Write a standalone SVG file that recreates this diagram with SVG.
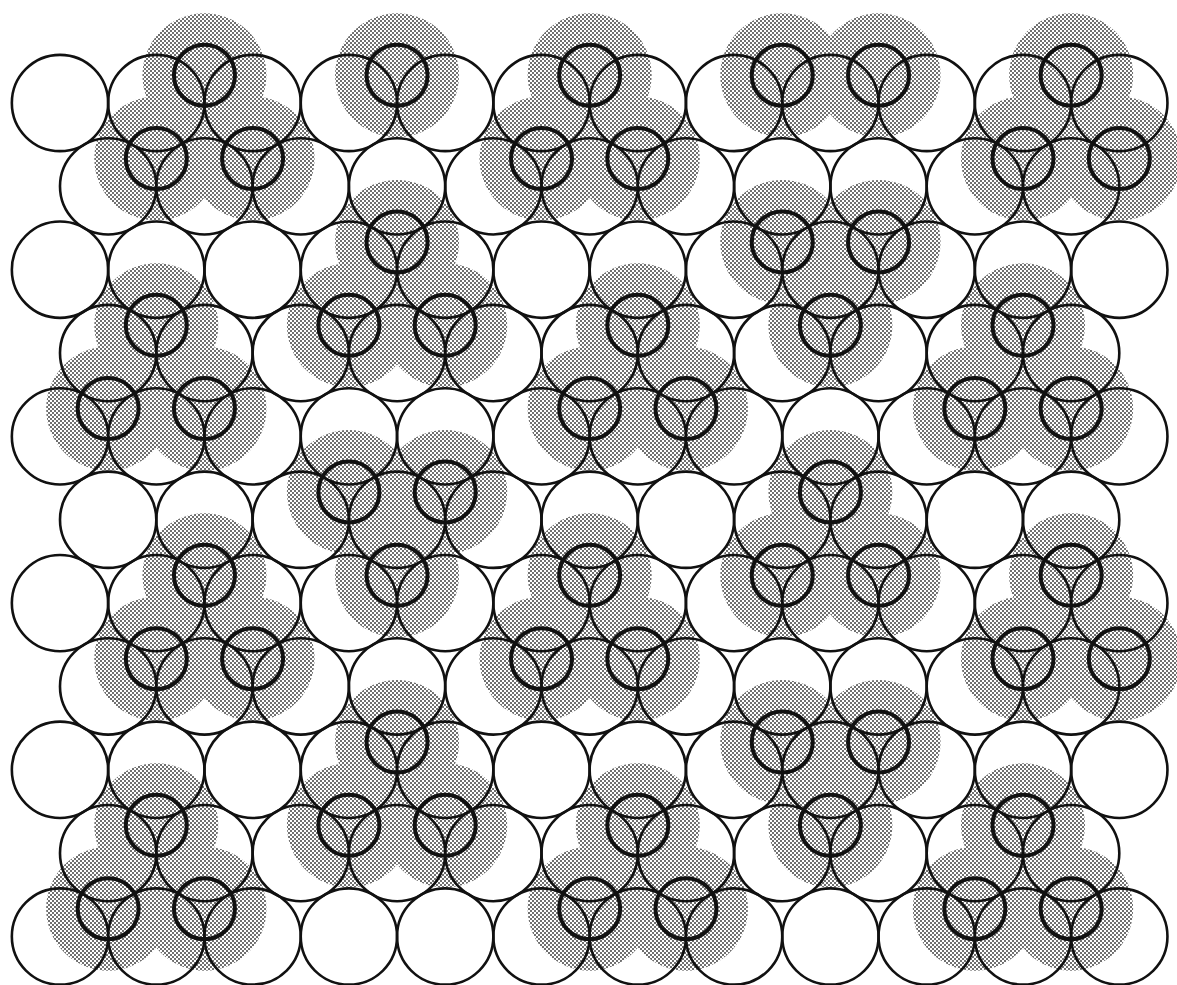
<svg xmlns="http://www.w3.org/2000/svg" width="1177" height="985" viewBox="0 0 1177 985">
<style>
.sub circle{fill:none;stroke:#111;stroke-width:2.6}
.ad circle{fill:none;stroke:#111;stroke-width:4}
</style>
<defs>
<pattern id="stip" width="4" height="4" patternUnits="userSpaceOnUse">
<rect x="0" y="0" width="2" height="2" fill="#707070"/>
<rect x="2" y="2" width="2" height="2" fill="#707070"/>
</pattern>
<clipPath id="shade">
<circle cx="204.45" cy="75.2" r="62"/><circle cx="397.05" cy="75.2" r="62"/><circle cx="589.65" cy="75.2" r="62"/><circle cx="782.25" cy="75.2" r="62"/><circle cx="878.55" cy="75.2" r="62"/><circle cx="1071.15" cy="75.2" r="62"/>
<circle cx="156.3" cy="158.55" r="62"/><circle cx="252.6" cy="158.55" r="62"/><circle cx="541.5" cy="158.55" r="62"/><circle cx="637.8" cy="158.55" r="62"/><circle cx="1023" cy="158.55" r="62"/><circle cx="1119.3" cy="158.55" r="62"/>
<circle cx="397.05" cy="241.9" r="62"/><circle cx="782.25" cy="241.9" r="62"/><circle cx="878.55" cy="241.9" r="62"/>
<circle cx="156.3" cy="325.25" r="62"/><circle cx="348.9" cy="325.25" r="62"/><circle cx="445.2" cy="325.25" r="62"/><circle cx="637.8" cy="325.25" r="62"/><circle cx="830.4" cy="325.25" r="62"/><circle cx="1023" cy="325.25" r="62"/>
<circle cx="108.15" cy="408.6" r="62"/><circle cx="204.45" cy="408.6" r="62"/><circle cx="589.65" cy="408.6" r="62"/><circle cx="685.95" cy="408.6" r="62"/><circle cx="974.85" cy="408.6" r="62"/><circle cx="1071.15" cy="408.6" r="62"/>
<circle cx="348.9" cy="491.95" r="62"/><circle cx="445.2" cy="491.95" r="62"/><circle cx="830.4" cy="491.95" r="62"/>
<circle cx="204.45" cy="575.3" r="62"/><circle cx="397.05" cy="575.3" r="62"/><circle cx="589.65" cy="575.3" r="62"/><circle cx="782.25" cy="575.3" r="62"/><circle cx="878.55" cy="575.3" r="62"/><circle cx="1071.15" cy="575.3" r="62"/>
<circle cx="156.3" cy="658.65" r="62"/><circle cx="252.6" cy="658.65" r="62"/><circle cx="541.5" cy="658.65" r="62"/><circle cx="637.8" cy="658.65" r="62"/><circle cx="1023" cy="658.65" r="62"/><circle cx="1119.3" cy="658.65" r="62"/>
<circle cx="397.05" cy="742" r="62"/><circle cx="782.25" cy="742" r="62"/><circle cx="878.55" cy="742" r="62"/>
<circle cx="156.3" cy="825.35" r="62"/><circle cx="348.9" cy="825.35" r="62"/><circle cx="445.2" cy="825.35" r="62"/><circle cx="637.8" cy="825.35" r="62"/><circle cx="830.4" cy="825.35" r="62"/><circle cx="1023" cy="825.35" r="62"/>
<circle cx="108.15" cy="908.7" r="62"/><circle cx="204.45" cy="908.7" r="62"/><circle cx="589.65" cy="908.7" r="62"/><circle cx="685.95" cy="908.7" r="62"/><circle cx="974.85" cy="908.7" r="62"/><circle cx="1071.15" cy="908.7" r="62"/>
</clipPath>
</defs>
<rect width="1177" height="985" fill="#fff"/>
<g id="shading">
<rect width="1177" height="985" fill="url(#stip)" clip-path="url(#shade)"/>
</g>
<g id="substrate" class="sub">
<g id="row1"><circle cx="60" cy="103" r="48.15"/><circle cx="156.3" cy="103" r="48.15"/><circle cx="252.6" cy="103" r="48.15"/><circle cx="348.9" cy="103" r="48.15"/><circle cx="445.2" cy="103" r="48.15"/><circle cx="541.5" cy="103" r="48.15"/><circle cx="637.8" cy="103" r="48.15"/><circle cx="734.1" cy="103" r="48.15"/><circle cx="830.4" cy="103" r="48.15"/><circle cx="926.7" cy="103" r="48.15"/><circle cx="1023" cy="103" r="48.15"/><circle cx="1119.3" cy="103" r="48.15"/></g>
<g id="row2"><circle cx="108.15" cy="186.35" r="48.15"/><circle cx="204.45" cy="186.35" r="48.15"/><circle cx="300.75" cy="186.35" r="48.15"/><circle cx="397.05" cy="186.35" r="48.15"/><circle cx="493.35" cy="186.35" r="48.15"/><circle cx="589.65" cy="186.35" r="48.15"/><circle cx="685.95" cy="186.35" r="48.15"/><circle cx="782.25" cy="186.35" r="48.15"/><circle cx="878.55" cy="186.35" r="48.15"/><circle cx="974.85" cy="186.35" r="48.15"/><circle cx="1071.15" cy="186.35" r="48.15"/></g>
<g id="row3"><circle cx="60" cy="269.7" r="48.15"/><circle cx="156.3" cy="269.7" r="48.15"/><circle cx="252.6" cy="269.7" r="48.15"/><circle cx="348.9" cy="269.7" r="48.15"/><circle cx="445.2" cy="269.7" r="48.15"/><circle cx="541.5" cy="269.7" r="48.15"/><circle cx="637.8" cy="269.7" r="48.15"/><circle cx="734.1" cy="269.7" r="48.15"/><circle cx="830.4" cy="269.7" r="48.15"/><circle cx="926.7" cy="269.7" r="48.15"/><circle cx="1023" cy="269.7" r="48.15"/><circle cx="1119.3" cy="269.7" r="48.15"/></g>
<g id="row4"><circle cx="108.15" cy="353.05" r="48.15"/><circle cx="204.45" cy="353.05" r="48.15"/><circle cx="300.75" cy="353.05" r="48.15"/><circle cx="397.05" cy="353.05" r="48.15"/><circle cx="493.35" cy="353.05" r="48.15"/><circle cx="589.65" cy="353.05" r="48.15"/><circle cx="685.95" cy="353.05" r="48.15"/><circle cx="782.25" cy="353.05" r="48.15"/><circle cx="878.55" cy="353.05" r="48.15"/><circle cx="974.85" cy="353.05" r="48.15"/><circle cx="1071.15" cy="353.05" r="48.15"/></g>
<g id="row5"><circle cx="60" cy="436.4" r="48.15"/><circle cx="156.3" cy="436.4" r="48.15"/><circle cx="252.6" cy="436.4" r="48.15"/><circle cx="348.9" cy="436.4" r="48.15"/><circle cx="445.2" cy="436.4" r="48.15"/><circle cx="541.5" cy="436.4" r="48.15"/><circle cx="637.8" cy="436.4" r="48.15"/><circle cx="734.1" cy="436.4" r="48.15"/><circle cx="830.4" cy="436.4" r="48.15"/><circle cx="926.7" cy="436.4" r="48.15"/><circle cx="1023" cy="436.4" r="48.15"/><circle cx="1119.3" cy="436.4" r="48.15"/></g>
<g id="row6"><circle cx="108.15" cy="519.75" r="48.15"/><circle cx="204.45" cy="519.75" r="48.15"/><circle cx="300.75" cy="519.75" r="48.15"/><circle cx="397.05" cy="519.75" r="48.15"/><circle cx="493.35" cy="519.75" r="48.15"/><circle cx="589.65" cy="519.75" r="48.15"/><circle cx="685.95" cy="519.75" r="48.15"/><circle cx="782.25" cy="519.75" r="48.15"/><circle cx="878.55" cy="519.75" r="48.15"/><circle cx="974.85" cy="519.75" r="48.15"/><circle cx="1071.15" cy="519.75" r="48.15"/></g>
<g id="row7"><circle cx="60" cy="603.1" r="48.15"/><circle cx="156.3" cy="603.1" r="48.15"/><circle cx="252.6" cy="603.1" r="48.15"/><circle cx="348.9" cy="603.1" r="48.15"/><circle cx="445.2" cy="603.1" r="48.15"/><circle cx="541.5" cy="603.1" r="48.15"/><circle cx="637.8" cy="603.1" r="48.15"/><circle cx="734.1" cy="603.1" r="48.15"/><circle cx="830.4" cy="603.1" r="48.15"/><circle cx="926.7" cy="603.1" r="48.15"/><circle cx="1023" cy="603.1" r="48.15"/><circle cx="1119.3" cy="603.1" r="48.15"/></g>
<g id="row8"><circle cx="108.15" cy="686.45" r="48.15"/><circle cx="204.45" cy="686.45" r="48.15"/><circle cx="300.75" cy="686.45" r="48.15"/><circle cx="397.05" cy="686.45" r="48.15"/><circle cx="493.35" cy="686.45" r="48.15"/><circle cx="589.65" cy="686.45" r="48.15"/><circle cx="685.95" cy="686.45" r="48.15"/><circle cx="782.25" cy="686.45" r="48.15"/><circle cx="878.55" cy="686.45" r="48.15"/><circle cx="974.85" cy="686.45" r="48.15"/><circle cx="1071.15" cy="686.45" r="48.15"/></g>
<g id="row9"><circle cx="60" cy="769.8" r="48.15"/><circle cx="156.3" cy="769.8" r="48.15"/><circle cx="252.6" cy="769.8" r="48.15"/><circle cx="348.9" cy="769.8" r="48.15"/><circle cx="445.2" cy="769.8" r="48.15"/><circle cx="541.5" cy="769.8" r="48.15"/><circle cx="637.8" cy="769.8" r="48.15"/><circle cx="734.1" cy="769.8" r="48.15"/><circle cx="830.4" cy="769.8" r="48.15"/><circle cx="926.7" cy="769.8" r="48.15"/><circle cx="1023" cy="769.8" r="48.15"/><circle cx="1119.3" cy="769.8" r="48.15"/></g>
<g id="row10"><circle cx="108.15" cy="853.15" r="48.15"/><circle cx="204.45" cy="853.15" r="48.15"/><circle cx="300.75" cy="853.15" r="48.15"/><circle cx="397.05" cy="853.15" r="48.15"/><circle cx="493.35" cy="853.15" r="48.15"/><circle cx="589.65" cy="853.15" r="48.15"/><circle cx="685.95" cy="853.15" r="48.15"/><circle cx="782.25" cy="853.15" r="48.15"/><circle cx="878.55" cy="853.15" r="48.15"/><circle cx="974.85" cy="853.15" r="48.15"/><circle cx="1071.15" cy="853.15" r="48.15"/></g>
<g id="row11"><circle cx="60" cy="936.5" r="48.15"/><circle cx="156.3" cy="936.5" r="48.15"/><circle cx="252.6" cy="936.5" r="48.15"/><circle cx="348.9" cy="936.5" r="48.15"/><circle cx="445.2" cy="936.5" r="48.15"/><circle cx="541.5" cy="936.5" r="48.15"/><circle cx="637.8" cy="936.5" r="48.15"/><circle cx="734.1" cy="936.5" r="48.15"/><circle cx="830.4" cy="936.5" r="48.15"/><circle cx="926.7" cy="936.5" r="48.15"/><circle cx="1023" cy="936.5" r="48.15"/><circle cx="1119.3" cy="936.5" r="48.15"/></g>
</g>
<g id="adsorbates">
<g id="a1-1" class="ad"><circle cx="204.45" cy="75.2" r="30.5"/></g>
<g id="a1-2" class="ad"><circle cx="397.05" cy="75.2" r="30.5"/></g>
<g id="a1-3" class="ad"><circle cx="589.65" cy="75.2" r="30.5"/></g>
<g id="a1-4" class="ad"><circle cx="782.25" cy="75.2" r="30.5"/></g>
<g id="a1-5" class="ad"><circle cx="878.55" cy="75.2" r="30.5"/></g>
<g id="a1-6" class="ad"><circle cx="1071.15" cy="75.2" r="30.5"/></g>
<g id="a2-1" class="ad"><circle cx="156.3" cy="158.55" r="30.5"/></g>
<g id="a2-2" class="ad"><circle cx="252.6" cy="158.55" r="30.5"/></g>
<g id="a2-3" class="ad"><circle cx="541.5" cy="158.55" r="30.5"/></g>
<g id="a2-4" class="ad"><circle cx="637.8" cy="158.55" r="30.5"/></g>
<g id="a2-5" class="ad"><circle cx="1023" cy="158.55" r="30.5"/></g>
<g id="a2-6" class="ad"><circle cx="1119.3" cy="158.55" r="30.5"/></g>
<g id="a3-1" class="ad"><circle cx="397.05" cy="241.9" r="30.5"/></g>
<g id="a3-2" class="ad"><circle cx="782.25" cy="241.9" r="30.5"/></g>
<g id="a3-3" class="ad"><circle cx="878.55" cy="241.9" r="30.5"/></g>
<g id="a4-1" class="ad"><circle cx="156.3" cy="325.25" r="30.5"/></g>
<g id="a4-2" class="ad"><circle cx="348.9" cy="325.25" r="30.5"/></g>
<g id="a4-3" class="ad"><circle cx="445.2" cy="325.25" r="30.5"/></g>
<g id="a4-4" class="ad"><circle cx="637.8" cy="325.25" r="30.5"/></g>
<g id="a4-5" class="ad"><circle cx="830.4" cy="325.25" r="30.5"/></g>
<g id="a4-6" class="ad"><circle cx="1023" cy="325.25" r="30.5"/></g>
<g id="a5-1" class="ad"><circle cx="108.15" cy="408.6" r="30.5"/></g>
<g id="a5-2" class="ad"><circle cx="204.45" cy="408.6" r="30.5"/></g>
<g id="a5-3" class="ad"><circle cx="589.65" cy="408.6" r="30.5"/></g>
<g id="a5-4" class="ad"><circle cx="685.95" cy="408.6" r="30.5"/></g>
<g id="a5-5" class="ad"><circle cx="974.85" cy="408.6" r="30.5"/></g>
<g id="a5-6" class="ad"><circle cx="1071.15" cy="408.6" r="30.5"/></g>
<g id="a6-1" class="ad"><circle cx="348.9" cy="491.95" r="30.5"/></g>
<g id="a6-2" class="ad"><circle cx="445.2" cy="491.95" r="30.5"/></g>
<g id="a6-3" class="ad"><circle cx="830.4" cy="491.95" r="30.5"/></g>
<g id="a7-1" class="ad"><circle cx="204.45" cy="575.3" r="30.5"/></g>
<g id="a7-2" class="ad"><circle cx="397.05" cy="575.3" r="30.5"/></g>
<g id="a7-3" class="ad"><circle cx="589.65" cy="575.3" r="30.5"/></g>
<g id="a7-4" class="ad"><circle cx="782.25" cy="575.3" r="30.5"/></g>
<g id="a7-5" class="ad"><circle cx="878.55" cy="575.3" r="30.5"/></g>
<g id="a7-6" class="ad"><circle cx="1071.15" cy="575.3" r="30.5"/></g>
<g id="a8-1" class="ad"><circle cx="156.3" cy="658.65" r="30.5"/></g>
<g id="a8-2" class="ad"><circle cx="252.6" cy="658.65" r="30.5"/></g>
<g id="a8-3" class="ad"><circle cx="541.5" cy="658.65" r="30.5"/></g>
<g id="a8-4" class="ad"><circle cx="637.8" cy="658.65" r="30.5"/></g>
<g id="a8-5" class="ad"><circle cx="1023" cy="658.65" r="30.5"/></g>
<g id="a8-6" class="ad"><circle cx="1119.3" cy="658.65" r="30.5"/></g>
<g id="a9-1" class="ad"><circle cx="397.05" cy="742" r="30.5"/></g>
<g id="a9-2" class="ad"><circle cx="782.25" cy="742" r="30.5"/></g>
<g id="a9-3" class="ad"><circle cx="878.55" cy="742" r="30.5"/></g>
<g id="a10-1" class="ad"><circle cx="156.3" cy="825.35" r="30.5"/></g>
<g id="a10-2" class="ad"><circle cx="348.9" cy="825.35" r="30.5"/></g>
<g id="a10-3" class="ad"><circle cx="445.2" cy="825.35" r="30.5"/></g>
<g id="a10-4" class="ad"><circle cx="637.8" cy="825.35" r="30.5"/></g>
<g id="a10-5" class="ad"><circle cx="830.4" cy="825.35" r="30.5"/></g>
<g id="a10-6" class="ad"><circle cx="1023" cy="825.35" r="30.5"/></g>
<g id="a11-1" class="ad"><circle cx="108.15" cy="908.7" r="30.5"/></g>
<g id="a11-2" class="ad"><circle cx="204.45" cy="908.7" r="30.5"/></g>
<g id="a11-3" class="ad"><circle cx="589.65" cy="908.7" r="30.5"/></g>
<g id="a11-4" class="ad"><circle cx="685.95" cy="908.7" r="30.5"/></g>
<g id="a11-5" class="ad"><circle cx="974.85" cy="908.7" r="30.5"/></g>
<g id="a11-6" class="ad"><circle cx="1071.15" cy="908.7" r="30.5"/></g>
</g>
</svg>
